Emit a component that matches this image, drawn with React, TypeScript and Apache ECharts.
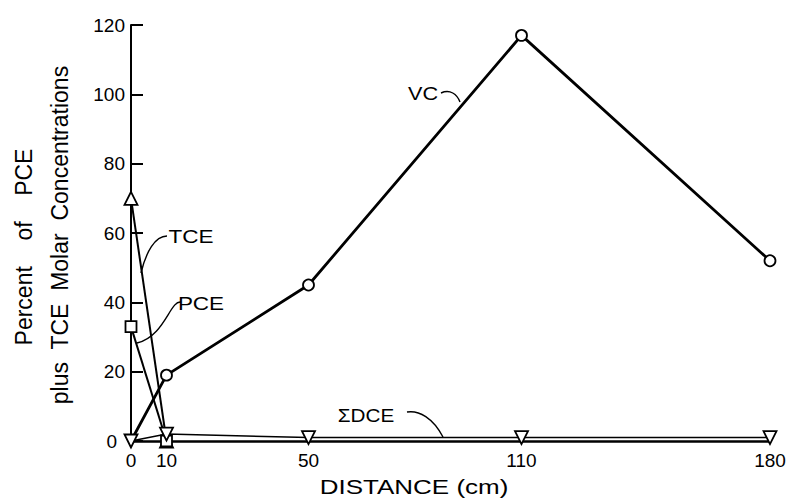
import React, { useEffect, useRef } from "react";
import * as echarts from "echarts";

// Distance along column (cm)
const distances = [0, 10, 50, 110, 180];
// Vinyl chloride (% of PCE plus TCE molar concentrations)
const vcValues = [0, 19, 45, 117, 52];
// Sum of DCE isomers
const dceValues = [0, 2, 1, 1, 1];
// TCE and PCE only measured at the first two positions
const shortDistances = [0, 10];
const tceValues = [70, 0];
const pceValues = [33, 0];
// Axis tick labels
const xTickLabels = [0, 10, 50, 110, 180];
const yMin = 0;
const yMax = 120;
const yStep = 20;

const FONT = "Liberation Sans, Arial, sans-serif";

function pairs(xs: number[], ys: number[]) {
  return xs.map((x, i) => [x, ys[i]]);
}

export default function App() {
  const ref = useRef<HTMLDivElement>(null);

  useEffect(() => {
    if (!ref.current) return;
    const chart = echarts.init(ref.current, undefined, { renderer: "svg" });

    const vcData = pairs(distances, vcValues).map((p, i) =>
      i === 0 ? { value: p, symbol: "none" } : { value: p }
    );

    const markerStyle = { color: "#fff", borderColor: "#000", borderWidth: 1.8 };
    const annot = (text: string, x: number, y: number, sx: number) => ({
      type: "text",
      x,
      y,
      scaleX: sx,
      style: { text, fontFamily: FONT, fontSize: 18, fill: "#000", align: "center", verticalAlign: "middle" },
    });
    const leader = (x1: number, y1: number, cpx1: number, cpy1: number, cpx2: number, cpy2: number, x2: number, y2: number) => ({
      type: "bezierCurve",
      shape: { x1, y1, cpx1, cpy1, cpx2, cpy2, x2, y2 },
      style: { stroke: "#000", lineWidth: 1.4, fill: "none" },
    });

    chart.setOption({
      animation: false,
      backgroundColor: "#fff",
      grid: {
        left: 131,
        right: 23,
        top: 25,
        bottom: 59,
        containLabel: false,
        outerBoundsMode: "none",
      },
      xAxis: {
        type: "value",
        min: 0,
        max: 180,
        axisLine: { show: true, onZero: false, lineStyle: { color: "#000", width: 2.5 } },
        axisTick: { show: false },
        splitLine: { show: false },
        axisLabel: {
          customValues: xTickLabels,
          color: "#000",
          fontFamily: FONT,
          fontSize: 19,
          margin: 10,
        },
      },
      yAxis: {
        type: "value",
        min: yMin,
        max: yMax,
        interval: yStep,
        axisLine: { show: true, lineStyle: { color: "#000", width: 2 } },
        axisTick: { show: true, inside: true, length: 12, lineStyle: { color: "#000", width: 2 } },
        splitLine: { show: false },
        axisLabel: {
          color: "#000",
          fontFamily: FONT,
          fontSize: 19,
          margin: 6,
          formatter: (v: number) => (v === 0 ? "{z|0}" : String(v)),
          rich: {
            z: { fontFamily: FONT, fontSize: 19, color: "#000", padding: [0, 8, 0, 0] },
          },
        },
      },
      series: [
        {
          name: "VC",
          type: "line",
          data: vcData,
          symbol: "circle",
          symbolSize: 11,
          lineStyle: { color: "#000", width: 2.8 },
          itemStyle: markerStyle,
          z: 3,
        },
        {
          name: "TCE",
          type: "line",
          data: pairs(shortDistances, tceValues),
          symbol: "triangle",
          symbolSize: 13,
          lineStyle: { color: "#000", width: 2 },
          itemStyle: markerStyle,
          z: 4,
        },
        {
          name: "PCE",
          type: "line",
          data: pairs(shortDistances, pceValues),
          symbol: "rect",
          symbolSize: 11,
          lineStyle: { color: "#000", width: 2 },
          itemStyle: markerStyle,
          z: 4,
        },
        {
          name: "ΣDCE",
          type: "line",
          data: pairs(distances, dceValues),
          symbol: "triangle",
          symbolRotate: 180,
          symbolSize: 13,
          lineStyle: { color: "#000", width: 1.5 },
          itemStyle: markerStyle,
          z: 5,
        },
      ],
      graphic: [
        {
          type: "text",
          x: 24,
          y: 247,
          rotation: Math.PI / 2,
          style: {
            text: "Percent    of    PCE",
            fontFamily: FONT,
            fontSize: 23,
            fill: "#000",
            align: "center",
            verticalAlign: "middle",
          },
        },
        {
          type: "text",
          x: 60,
          y: 235,
          rotation: Math.PI / 2,
          style: {
            text: "plus  TCE  Molar  Concentrations",
            fontFamily: FONT,
            fontSize: 23,
            fill: "#000",
            align: "center",
            verticalAlign: "middle",
          },
        },
        {
          type: "text",
          x: 414,
          y: 487,
          scaleX: 1.3,
          style: {
            text: "DISTANCE (cm)",
            fontFamily: FONT,
            fontSize: 20,
            fill: "#000",
            align: "center",
            verticalAlign: "middle",
          },
        },
        // annotations
        annot("VC", 423, 94, 1.2),
        leader(441, 93, 450, 89, 457, 94, 460, 102),
        annot("TCE", 191, 237, 1.25),
        leader(167, 236, 155, 236, 146, 252, 141, 273),
        annot("PCE", 201, 304, 1.25),
        leader(181, 302, 170, 300, 165, 336, 137, 343),
        annot("ΣDCE", 366, 416, 1.15),
        leader(407, 412, 419, 410, 433, 418, 443, 437),
      ],
    });

    return () => chart.dispose();
  }, []);

  return (
    <div
      ref={ref}
      style={{ position: "fixed", left: 0, top: 0, width: 793, height: 500, background: "#fff" }}
    />
  );
}
